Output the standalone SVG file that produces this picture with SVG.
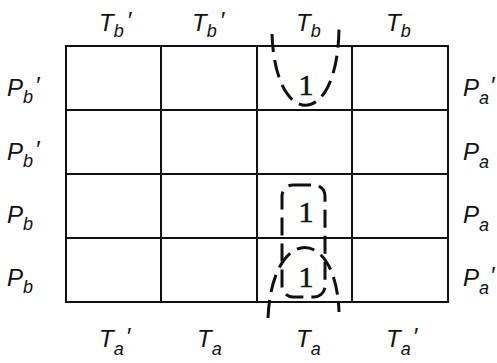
<svg xmlns="http://www.w3.org/2000/svg" width="497" height="363" viewBox="0 0 497 363">
<style>
.lbl{font-family:"Liberation Sans","DejaVu Sans",sans-serif;font-style:italic;font-size:24px;fill:#111}
.sub{font-size:18px}
.one{font-family:"Liberation Serif","DejaVu Serif",serif;font-size:30px;fill:#111;text-anchor:middle;stroke:#111;stroke-width:0.6}
.grid{fill:none;stroke:#111;stroke-width:2}
.loop{fill:none;stroke:#111;stroke-width:3;stroke-dasharray:18 8}
</style>
<rect width="497" height="363" fill="#fff"/>
<g id="grid" class="grid">
<rect x="66" y="46" width="382" height="256"/>
<line x1="161" y1="46" x2="161" y2="302"/>
<line x1="257" y1="46" x2="257" y2="302"/>
<line x1="352" y1="46" x2="352" y2="302"/>
<line x1="66" y1="110" x2="448" y2="110"/>
<line x1="66" y1="174" x2="448" y2="174"/>
<line x1="66" y1="238" x2="448" y2="238"/>
</g>
<g id="top-labels" class="lbl">
<text x="99" y="31">T<tspan class="sub" dy="6">b</tspan><tspan dy="-8" dx="3">′</tspan></text>
<text x="192" y="31">T<tspan class="sub" dy="6">b</tspan><tspan dy="-8" dx="3">′</tspan></text>
<text x="296" y="31">T<tspan class="sub" dy="6">b</tspan></text>
<text x="386" y="31">T<tspan class="sub" dy="6">b</tspan></text>
</g>
<g id="bottom-labels" class="lbl">
<text x="99" y="347">T<tspan class="sub" dy="8">a</tspan><tspan dy="-10" dx="2">′</tspan></text>
<text x="197" y="347">T<tspan class="sub" dy="8">a</tspan></text>
<text x="296" y="347">T<tspan class="sub" dy="8">a</tspan></text>
<text x="386" y="347">T<tspan class="sub" dy="8">a</tspan><tspan dy="-10" dx="2">′</tspan></text>
</g>
<g id="left-labels" class="lbl">
<text x="7" y="96">P<tspan class="sub" dy="7">b</tspan><tspan dy="-9" dx="2">′</tspan></text>
<text x="7" y="160">P<tspan class="sub" dy="7">b</tspan><tspan dy="-9" dx="2">′</tspan></text>
<text x="7" y="223">P<tspan class="sub" dy="7">b</tspan></text>
<text x="7" y="286">P<tspan class="sub" dy="7">b</tspan></text>
</g>
<g id="right-labels" class="lbl">
<text x="463" y="96">P<tspan class="sub" dy="8">a</tspan><tspan dy="-10" dx="1">′</tspan></text>
<text x="463" y="160">P<tspan class="sub" dy="8">a</tspan></text>
<text x="463" y="223">P<tspan class="sub" dy="8">a</tspan></text>
<text x="463" y="286">P<tspan class="sub" dy="8">a</tspan><tspan dy="-10" dx="1">′</tspan></text>
</g>
<g id="ones">
<text class="one" x="306" y="95">1</text>
<text class="one" x="306" y="222">1</text>
<text class="one" x="306" y="287">1</text>
</g>
<g id="loops">
<path class="loop" d="M272 34 C275 130 338 130 339 28"/>
<rect class="loop" x="282" y="185" width="43" height="112" rx="11" ry="11"/>
<path class="loop" d="M268 318 C272 225 336 225 339 312"/>
</g>
</svg>
